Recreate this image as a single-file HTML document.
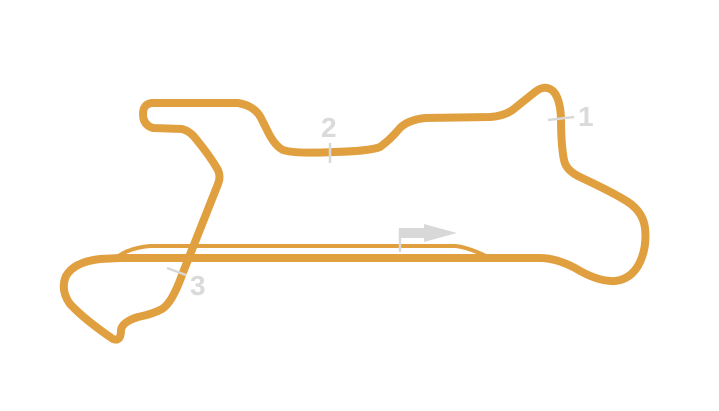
<!DOCTYPE html>
<html><head><style>html,body{margin:0;padding:0;background:#fff;}svg{display:block}</style></head>
<body>
<svg width="719" height="411" viewBox="0 0 719 411" xmlns="http://www.w3.org/2000/svg">
<path d="M116,258 Q128,248 150,246 L455,246 Q468,247 490,258" fill="none" stroke="#e0a040" stroke-width="4"/>
<path d="M120,258 L540,258 Q556,258 575,268 Q598,282 615,281 Q632,279 640,262 Q647,247 645,228 Q643,212 628,202 Q614,193 582,178 Q566,171 564,160 Q561,145 561,118 Q560,98 553,91 Q545,84 535,92 L515,108 Q506,116 490,117 L425,118 Q408,120 400,128 Q390,140 380,147 Q370,151 335,152 Q295,154 283,150 Q275,146 268,132 L261,118 Q255,106 238,103 L152,103 Q143,104 143,114 Q143,125 153,128 L182,129 Q190,131 196,139 Q210,156 218,170 Q221,177 218,184 L182,275 Q172,303 162,309 Q153,314 138,317 Q122,322 121,330 Q121,342 113,339 Q85,320 70,304 Q60,290 66,276 Q74,262 100,259 Z" fill="none" stroke="#e0a040" stroke-width="8" stroke-linejoin="round"/>
<g stroke="#d8d8d8" stroke-width="2.5">
<line x1="548" y1="120" x2="574" y2="117"/>
<line x1="330" y1="143" x2="330" y2="163"/>
<line x1="167" y1="268" x2="186" y2="275"/>
<line x1="400" y1="228" x2="400" y2="252"/>
</g>
<path d="M400,228 L424,228 L424,224 L457,233 L424,242 L424,238 L400,238 Z" fill="#d8d8d8"/>
<g font-family="Liberation Sans, sans-serif" font-size="28" font-weight="bold" fill="#dadada">
<text x="578" y="126">1</text>
<text x="321" y="137">2</text>
<text x="190" y="295">3</text>
</g>
</svg>
</body></html>
